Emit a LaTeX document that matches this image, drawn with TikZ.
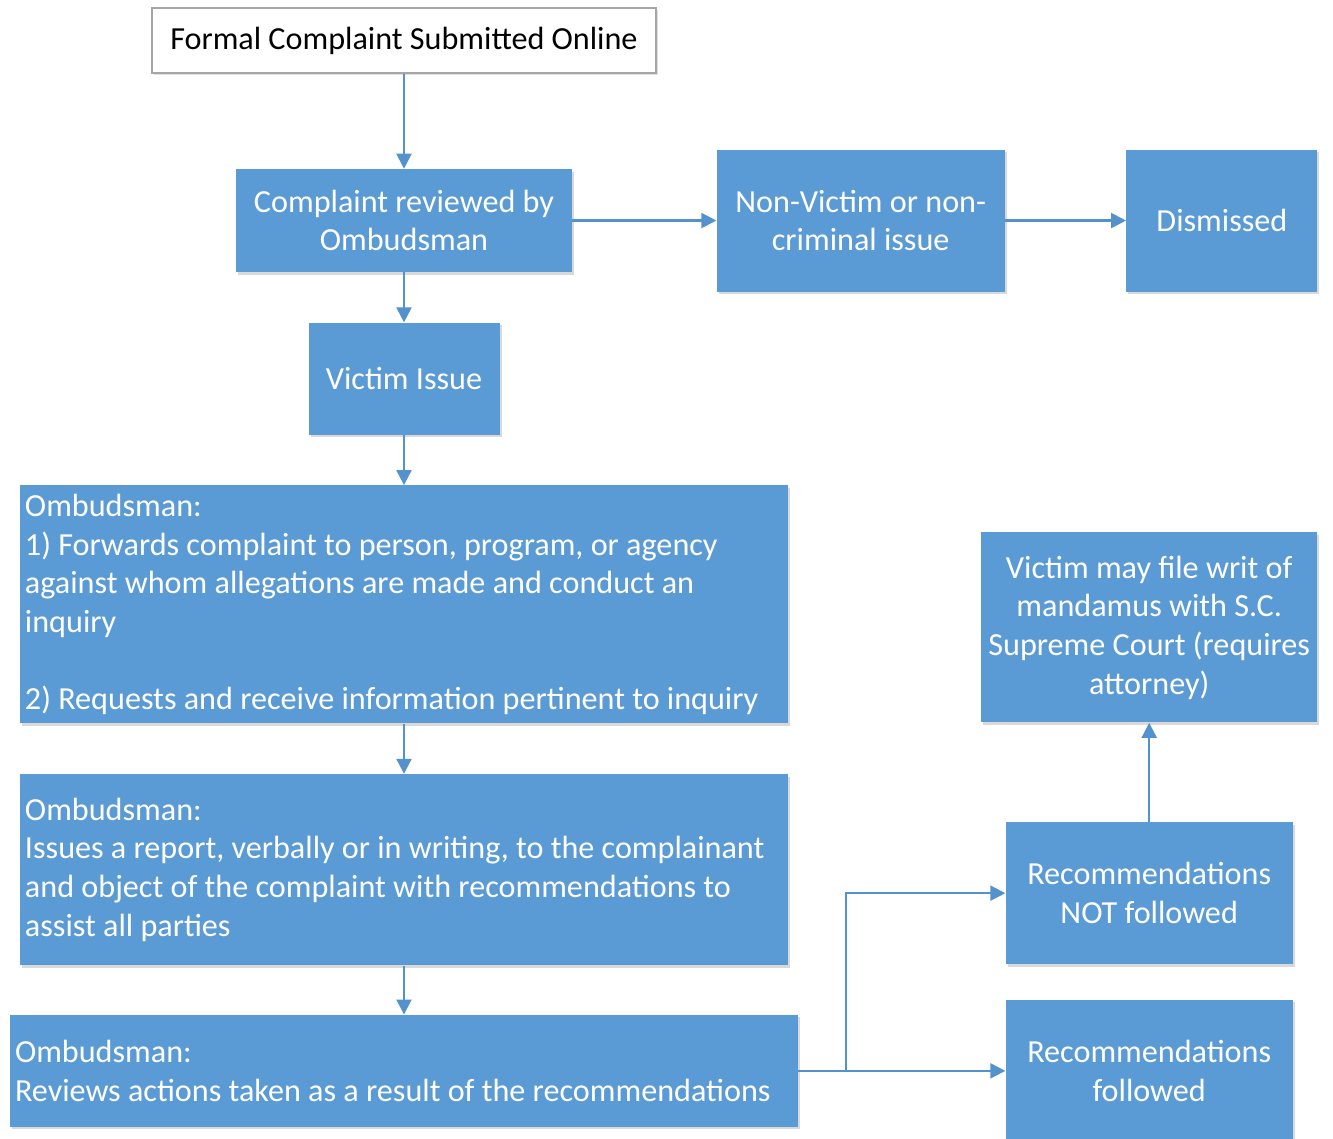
\documentclass[tikz,border=0pt]{standalone}
\usepackage{fontspec}
\setmainfont{Carlito}
\usepackage{tikz}
\usetikzlibrary{positioning,shadows,arrows.meta,calc}
\definecolor{boxblue}{RGB}{91,155,213}
\definecolor{lineblue}{RGB}{84,146,206}
\tikzset {
    style A/.style={
        fill=white,
        draw=black!35,
        thick,
        rectangle, % Set the shape as a rectangle
        text=black,
        align=center,
        drop shadow={shadow xshift=0.04cm, shadow yshift=-0.05cm, opacity=0.12, fill=black},
    },
    style B/.style={
        fill=boxblue,
        draw=none,
        rectangle, % Set the shape as a rectangle
        text=white,
        align=center,
        drop shadow={shadow xshift=0.04cm, shadow yshift=-0.05cm, opacity=0.15, fill=black},
    },
    style C/.style={
        style B,
        align=flush left,
        inner xsep=0.1cm,
        inner ysep=0pt,
    },
}

\begin{document}
\begin{tikzpicture}
        [font=\fontsize{18.3}{22}\selectfont, node distance=1cm,
        every edge/.style={draw=lineblue, line width=1.2pt, -{Triangle[length=0.3cm,width=0.3cm]}}]

        \useasboundingbox (0,0) rectangle (26.66,-22.78);

        \node[style A, minimum width=10.08cm, minimum height=1.3cm] (formal) at (8.08,-0.81) {Formal Complaint Submitted Online};

        \node[style B, minimum width=6.72cm, minimum height=2.06cm, below=1.9cm of formal] (review) {Complaint reviewed by\\Ombudsman};
        \node[style B, minimum width=5.76cm, minimum height=2.84cm, right=2.88cm of review] (nonvictim) {Non-Victim or non-\\criminal issue};
        \node[style B, minimum width=3.82cm, minimum height=2.84cm, right=2.42cm of nonvictim] (dismissed) {Dismissed};
        \node[style B, minimum width=3.82cm, minimum height=2.24cm, below=of review] (victim) {Victim Issue};

        \node[style C, text width=15.16cm, minimum height=4.76cm, below=of victim] (ombA) {Ombudsman:\\
            1) Forwards complaint to person, program, or agency against whom allegations are made and conduct an inquiry\\[22pt]
            2) Requests and receive information pertinent to inquiry};
        \node[style C, text width=15.16cm, minimum height=3.82cm, below=of ombA] (ombB) {Ombudsman:\\
            Issues a report, verbally or in writing, to the complainant and object of the complaint with recommendations to assist all parties};
        \node[style C, text width=15.56cm, minimum height=2.24cm, below=0.98cm of ombB] (ombC) {Ombudsman:\\
            Reviews actions taken as a result of the recommendations};

        \node[style B, minimum width=5.74cm, minimum height=2.84cm, right=4.14cm of ombC] (followed) {Recommendations\\followed};
        \node[style B, minimum width=5.74cm, minimum height=2.84cm, above=0.7cm of followed] (notfollowed) {Recommendations\\NOT followed};
        \node[style B, minimum width=6.72cm, minimum height=3.8cm, above=1.98cm of notfollowed] (writ) {Victim may file writ of\\mandamus with S.C.\\Supreme Court (requires\\attorney)};

        \coordinate (split) at ($(ombC.east)!0.23!(followed.west)$);

        \draw (formal) edge (review)
              (review) edge (nonvictim)
              (nonvictim) edge (dismissed)
              (review) edge (victim)
              (victim) edge (ombA)
              (ombA) edge (ombB)
              (ombB) edge (ombC)
              (ombC) edge (followed)
              (split) edge[to path={|- (\tikztotarget)}] (notfollowed.west)
              (notfollowed) edge (writ);
    \end{tikzpicture}
\end{document}
